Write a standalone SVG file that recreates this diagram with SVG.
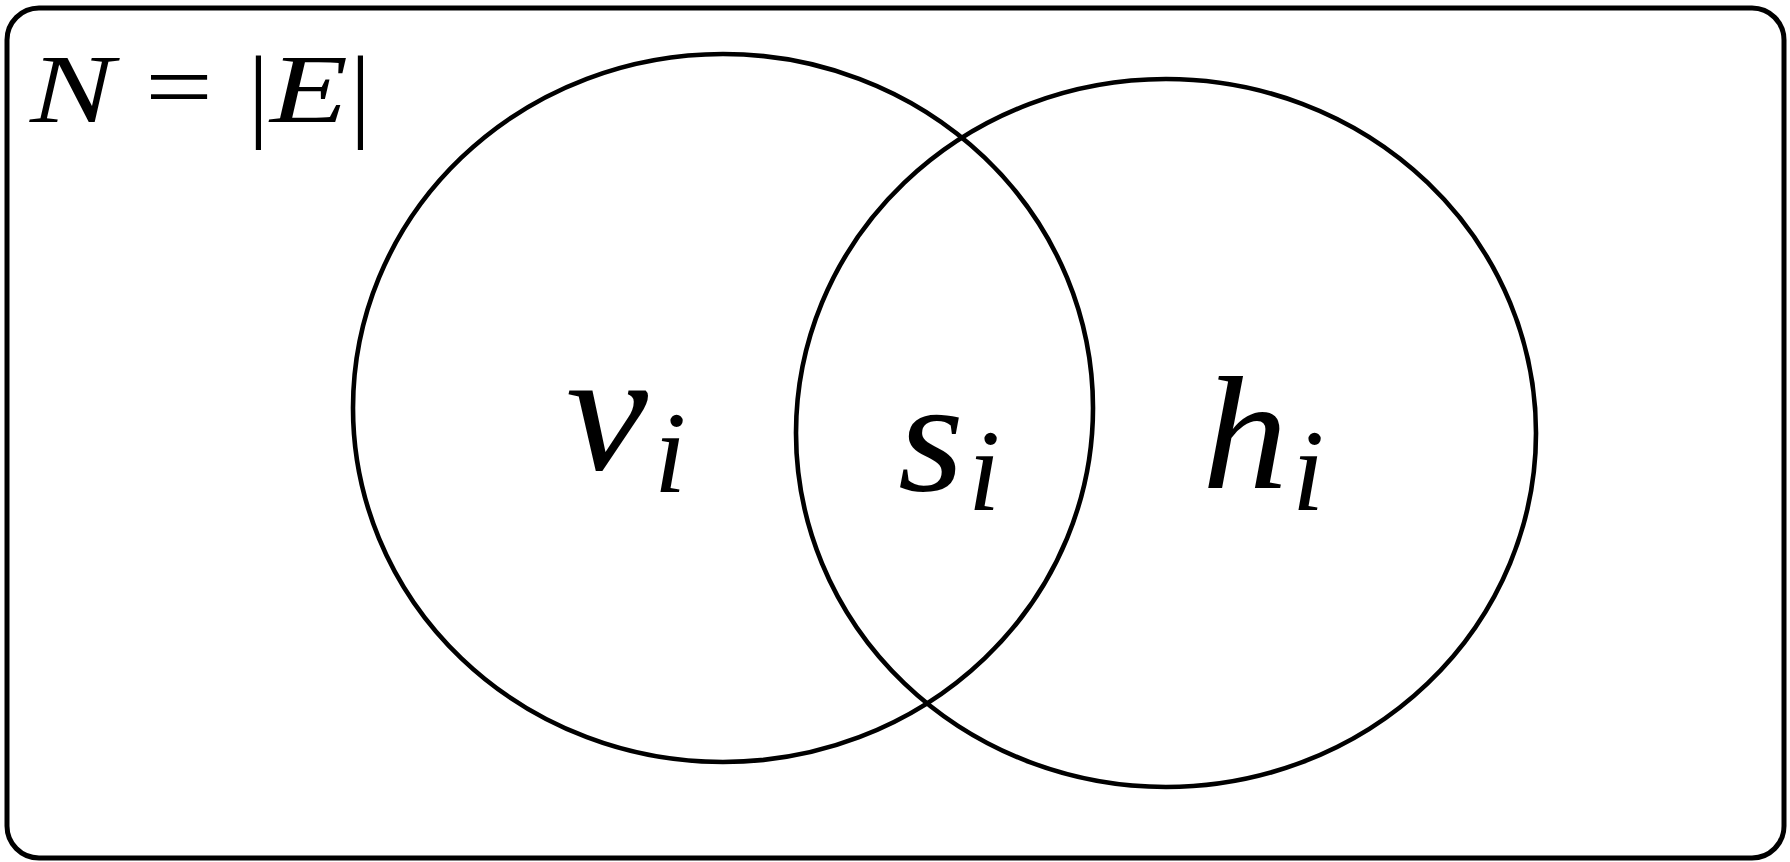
<svg xmlns="http://www.w3.org/2000/svg" width="1790" height="862" viewBox="0 0 1790 862">
<style>
.frame{fill:#fff;stroke:#000;stroke-width:5}
.set{fill:none;stroke:#000;stroke-width:4.6}
.m{font-family:"Liberation Serif","DejaVu Serif",serif;font-style:italic;fill:#000}
.r{font-family:"Liberation Serif","DejaVu Serif",serif;fill:#000}
</style>
<rect width="1790" height="862" fill="#fff"/>
<g id="frame"><rect class="frame" x="7" y="8" width="1777" height="850" rx="32" ry="32"/></g>
<g id="label-N">
<text class="m" x="30" y="122" font-size="98" textLength="84" lengthAdjust="spacingAndGlyphs">N</text>
<text class="r" x="145" y="119" font-size="96" textLength="68" lengthAdjust="spacingAndGlyphs">=</text>
<text class="r" x="248" y="128" font-size="104">|</text>
<text class="m" x="270" y="122" font-size="98" textLength="78" lengthAdjust="spacingAndGlyphs">E</text>
<text class="r" x="350" y="128" font-size="104">|</text>
</g>
<g id="set-v">
<ellipse class="set" cx="723" cy="408" rx="370" ry="354"/>
<text class="m" x="566" y="469" font-size="172" textLength="82" lengthAdjust="spacingAndGlyphs">v</text>
<text class="m" x="654" y="492" font-size="116">i</text>
</g>
<g id="set-h">
<ellipse class="set" cx="1166" cy="433" rx="370" ry="354"/>
<text class="m" x="1202" y="488" font-size="162" textLength="86" lengthAdjust="spacingAndGlyphs">h</text>
<text class="m" x="1292" y="510" font-size="116">i</text>
</g>
<g id="intersection-s">
<text class="m" x="898" y="490" font-size="160" textLength="66" lengthAdjust="spacingAndGlyphs">s</text>
<text class="m" x="968" y="510" font-size="116">i</text>
</g>
</svg>
